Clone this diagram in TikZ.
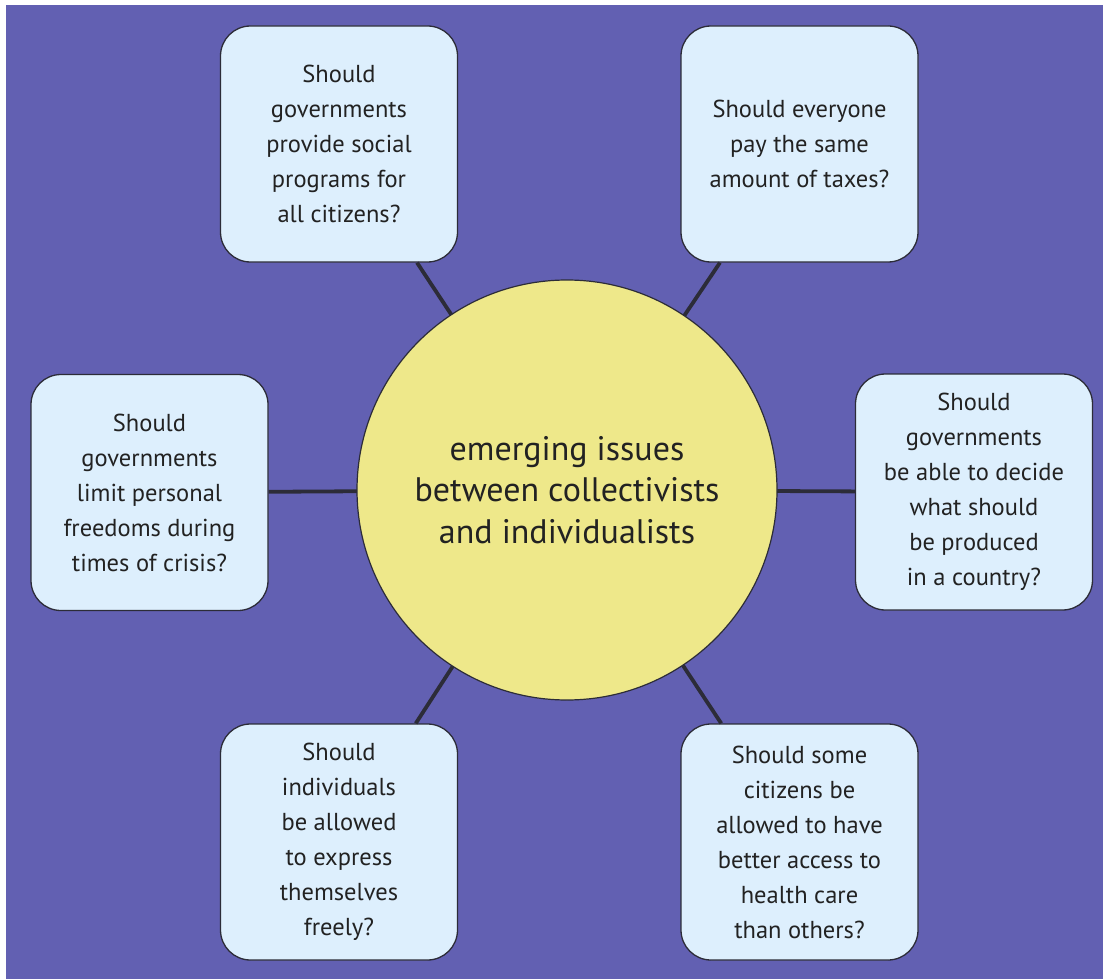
\documentclass[tikz,border=0pt]{standalone}
\usepackage{fontspec}
\setmainfont{PT Sans}
\definecolor{bgpurple}{HTML}{6260B2}
\definecolor{boxfill}{HTML}{DDEFFD}
\definecolor{hubfill}{HTML}{EEE88A}
\definecolor{inkline}{HTML}{2C2C38}
\definecolor{textink}{HTML}{222222}
\tikzset{
  question/.style={draw=inkline, line width=1.3pt, fill=boxfill, rounded corners=30pt,
    minimum width=237pt, minimum height=236pt, align=center, text=textink,
    font=\fontsize{24.5}{35}\selectfont, inner sep=0pt},
  hub/.style={circle, draw=inkline, line width=1.2pt, fill=hubfill, minimum size=420pt,
    align=center, text=textink, font=\fontsize{34}{41.5}\selectfont, inner sep=0pt},
  spoke/.style={draw=inkline, line width=3.8pt}
}
\begin{document}
\begin{tikzpicture}[x=1pt,y=-1pt]
\useasboundingbox (0,0) rectangle (1103,979);
\fill[white] (0,0) rectangle (1103,979);
\fill[bgpurple] (6,5) rectangle (1103,979);

\node[question] (q1) at (339,144) {Should\\governments\\provide social\\programs for\\all citizens?};
\node[question] (q2) at (799.5,144) {Should everyone\\pay the same\\amount of taxes?};
\node[question] (q3) at (149.5,492.5) {Should\\governments\\limit personal\\freedoms during\\times of crisis?};
\node[question] (q4) at (974,492) {Should\\governments\\be able to decide\\what should\\be produced\\in a country?};
\node[question] (q5) at (339,842) {Should\\individuals\\be allowed\\to express\\themselves\\freely?};
\node[question] (q6) at (799.5,842) {Should some\\citizens be\\allowed to have\\better access to\\health care\\than others?};

\coordinate (hc) at (567,490);
\foreach \q in {q1,q2,q3,q4,q5,q6}
  \draw[spoke] (\q) -- (hc);

\node[hub] (hub) at (hc) {emerging issues\\between collectivists\\and individualists};
\end{tikzpicture}
\end{document}
